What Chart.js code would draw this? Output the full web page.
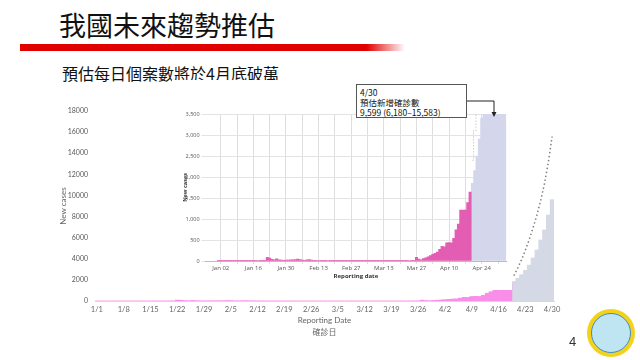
<!DOCTYPE html>
<html>
<head>
<meta charset="utf-8">
<script src="https://cdn.jsdelivr.net/npm/chart.js@4.4.1/dist/chart.umd.min.js"></script>
<style>
body{margin:0;background:#fff;}
#slide{position:relative;width:640px;height:360px;overflow:hidden;background:#fff;font-family:"Noto Sans CJK TC","Noto Sans",sans-serif;}
#title{position:absolute;left:59px;top:11px;font-size:27px;line-height:1;color:#111;}
#redbar{position:absolute;left:20px;top:44px;width:385px;height:7px;background:linear-gradient(to right,#e00000 0%,#e00000 90%,rgba(224,0,0,0) 100%);}
#sub{position:absolute;left:62px;top:65px;font-size:16px;line-height:1;color:#111;}
#mainChart{position:absolute;left:0;top:0;}
#insetWrap{position:absolute;left:172px;top:80px;width:340px;height:210px;background:#fff;}
#note{position:absolute;left:356px;top:84px;width:103px;height:28px;padding:2px 3px;border:1px solid #555;background:#fff;font-size:8.5px;line-height:10px;color:#111;white-space:nowrap;}
#arrow{position:absolute;left:0;top:0;pointer-events:none;}
#pageNo{position:absolute;left:569px;top:334px;font-family:"Liberation Sans",sans-serif;font-size:13px;color:#333;}
#logo{position:absolute;left:587px;top:309px;width:48px;height:48px;border-radius:50%;background:#f4d21c;}
#logo div{position:absolute;left:4px;top:4px;width:38px;height:38px;border-radius:50%;background:#bfe5f2;border:1px solid #3d8fc6;}
</style>
</head>
<body>
<div id="slide">
  <div id="title">我國未來趨勢推估</div>
  <div id="redbar"></div>
  <div id="sub">預估每日個案數將於4月底破萬</div>
  <canvas id="mainChart" width="640" height="360"></canvas>
  <div id="insetWrap"><canvas id="insetChart" width="340" height="210"></canvas></div>
  <div id="note">4/30<br>預估新增確診數<br>9,599 (6,180–15,583)</div>
  <svg id="arrow" width="640" height="360">
    <polyline points="467,101 494,101 494,113" fill="none" stroke="#222" stroke-width="1"/>
    <polygon points="491.5,112 496.5,112 494,117" fill="#222"/>
  </svg>
  <div id="pageNo">4</div>
  <div id="logo"><div></div></div>
</div>
<script>
// daily new cases, 2022
const obsJan = [3,5,4,2,6,8,5,3,7,6,4,9,6,5,8,10,7,12,9,14,18,88,72,38,26,52,30,22,18,20,24];
const obsFeb = [28,25,32,44,36,20,18,26,34,22,16,14,12,15,10,9,12,8,10,7,9,6,8,5,7,6,5,4];
const obsMar = [6,5,4,7,5,6,4,5,8,6,5,4,6,5,7,4,6,8,5,7,9,10,8,12,14,18];
const obsLate = [85,45,30,55,75,100,130,160,185,210,280,350,340,430,440,430,540,740,880,1210,1210,1210,1390,1640]; // 3/27 - 4/19
// projection 4/20 - 4/30
const projected = [1850,2150,2500,2900,3400,4070,4830,5780,6730,8150,9599];
const upperCI = [2400,3100,3900,4800,5800,6900,8100,9500,11100,13100,15583];
const lowerCI = [1500,1800,2150,2550,2950,3400,3900,4400,5000,5600,6180];
// inset: days after 4/30 shown clipped at the top of its axis
const insetClippedTail = [3500,3500,3500,3500];

const mainYTicks = [0,2000,4000,6000,8000,10000,12000,14000,16000,18000];
const insetYTicks = [0,500,1000,1500,2000,2500,3000,3500];
const monShort = ["Jan","Feb","Mar","Apr","May","Jun","Jul","Aug","Sep","Oct","Nov","Dec"];

const observed = obsJan.concat(obsFeb, obsMar, obsLate);
const nObs = observed.length;

// 1/1 .. 4/30
const days = [];
for (let i=0;i<120;i++){
  const d = new Date(2022,0,1+i);
  days.push((d.getMonth()+1)+"/"+d.getDate());
}
const none = n => Array(n).fill(null);

Chart.defaults.animation = false;
Chart.defaults.responsive = false;

new Chart(document.getElementById("mainChart"), {
  type:"bar",
  data:{ labels: days, datasets:[
    { data: observed.concat(none(projected.length)), backgroundColor:"#f98ee9", grouped:false, barPercentage:1, categoryPercentage:1 },
    { data: none(nObs).concat(projected), backgroundColor:"#d5d9e6", grouped:false, barPercentage:1, categoryPercentage:1 },
    { type:"line", data: none(nObs).concat(upperCI), borderColor:"#808080", borderWidth:1.5, borderDash:[1.5,2.5], pointRadius:0, fill:false },
    { type:"line", data: none(nObs).concat(lowerCI), borderColor:"#808080", borderWidth:1.5, borderDash:[1.5,2.5], pointRadius:0, fill:false }
  ]},
  options:{
    layout:{ padding:{ left:55, right:86, top:111, bottom:18 } },
    plugins:{ legend:{ display:false }, tooltip:{ enabled:false } },
    scales:{
      x:{
        grid:{ display:false, drawTicks:false },
        border:{ display:true, color:"#d9d9d9" },
        ticks:{ autoSkip:false, maxRotation:0, padding:4, color:"#666", font:{ family:"Lato", size:7.5 },
          callback:(v,i)=> i%7===0 ? days[i] : "" },
        title:{ display:true, text:["Reporting Date","確診日"], color:"#666", font:{ family:"Lato, 'Noto Sans CJK TC'", size:8, lineHeight:1.5 }, padding:{ top:0, bottom:4 } },
        afterFit: s => { s.height = 41; }
      },
      y:{
        min:0, max:18000,
        afterBuildTicks: s => { s.ticks = mainYTicks.map(v=>({ value:v })); },
        grid:{ display:false, drawTicks:false },
        border:{ display:false },
        ticks:{ padding:7, color:"#595959", font:{ family:"Lato", size:7 }, callback: v => String(v) },
        title:{ display:true, text:"New cases", color:"#666", font:{ family:"Lato", size:8 }, padding:{ top:4, bottom:0 } },
        afterFit: s => { s.width = 40; }
      }
    }
  }
});

// inset: Dec 27 .. May 4
const insetDays = [];
for (let i=0;i<129;i++){
  const d = new Date(2021,11,27+i);
  insetDays.push(monShort[d.getMonth()]+" "+String(d.getDate()).padStart(2,"0"));
}
const lead = 5; // Dec 27 - Dec 31
const weekColor = c => ((c.index-6)%7===0) ? "#dedede" : "rgba(0,0,0,0)";

new Chart(document.getElementById("insetChart"), {
  type:"bar",
  data:{ labels: insetDays, datasets:[
    { data: none(lead).concat(observed, none(projected.length + insetClippedTail.length)), backgroundColor:"#e35db3", grouped:false, barPercentage:1, categoryPercentage:1 },
    { data: none(lead + nObs).concat(projected, insetClippedTail), backgroundColor:"#d4d6ec", grouped:false, barPercentage:1, categoryPercentage:1 },
    { type:"line", data: none(lead + nObs).concat(upperCI), stepped:"middle", borderColor:"#b5b5b5", borderWidth:1, borderDash:[1,2], pointRadius:0, fill:false }
  ]},
  options:{
    layout:{ padding:{ left:6, right:5.8, top:34, bottom:9.6 } },
    plugins:{ legend:{ display:false }, tooltip:{ enabled:false } },
    scales:{
      x:{
        grid:{ offset:false, color: weekColor, tickLength:3 },
        border:{ display:true, color:"#bbb" },
        ticks:{ autoSkip:false, maxRotation:0, padding:1, color:"#555", font:{ family:"Open Sans", size:6 },
          callback:(v,i)=> ((i-6)%14===0) ? insetDays[i] : "" },
        title:{ display:true, text:"Reporting date", color:"#333", font:{ family:"Open Sans", size:6, weight:"bold" }, padding:{ top:0, bottom:1 } },
        afterFit: s => { s.height = 19.4; }
      },
      y:{
        min:0, max:3500,
        afterBuildTicks: s => { s.ticks = insetYTicks.map(v=>({ value:v })); },
        grid:{ color:"#e3e3e3", tickLength:4 },
        border:{ display:false },
        ticks:{ padding:2, color:"#555", font:{ family:"Open Sans", size:5.5 },
          callback: v => v.toLocaleString("en-US") },
        title:{ display:true, text:"New cases", color:"#333", font:{ family:"Open Sans", size:5.5, weight:"bold" }, padding:{ top:4, bottom:0 } },
        afterFit: s => { s.width = 27.6; }
      }
    }
  }
});
</script>
</body>
</html>
